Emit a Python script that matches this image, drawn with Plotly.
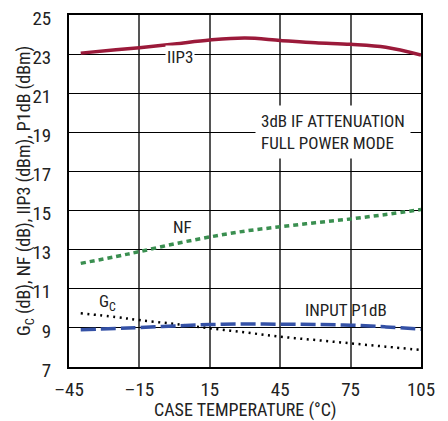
import plotly.graph_objects as go

FONT = "Liberation Sans Narrow, Arial Narrow, Roboto Condensed, Liberation Sans, sans-serif"

# datos
temp = [-40, -25, -15, 0, 15, 30, 45, 60, 75, 90, 105]
iip3 = [23.05, 23.22, 23.33, 23.52, 23.72, 23.82, 23.70, 23.58, 23.50, 23.35, 22.95]
nf = [12.3, 12.65, 12.9, 13.3, 13.65, 13.95, 14.17, 14.38, 14.57, 14.8, 15.05]
gc = [9.75, 9.55, 9.4, 9.2, 8.98, 8.77, 8.55, 8.38, 8.21, 8.04, 7.87]
p1db = [8.9, 8.97, 9.02, 9.1, 9.17, 9.2, 9.19, 9.17, 9.14, 9.05, 8.93]

x_ticks = [-45, -15, 15, 45, 75, 105]
x_ticktext = ["–45", "–15", "15", "45", "75", "105"]
y_ticks = [7, 9, 11, 13, 15, 17, 19, 21, 23, 25]

fig = go.Figure()
fig.add_trace(go.Scatter(x=temp, y=iip3, mode="lines", line_shape="spline",
                         line=dict(color="#9b1a3a", width=3.5)))
fig.add_trace(go.Scatter(x=temp, y=nf, mode="lines", line_shape="spline",
                         line=dict(color="#3a8f50", width=3.5, dash="5px,4px")))
fig.add_trace(go.Scatter(x=temp, y=gc, mode="lines", line_shape="spline",
                         line=dict(color="black", width=2.5, dash="2px,4.5px")))
fig.add_trace(go.Scatter(x=temp, y=p1db, mode="lines", line_shape="spline",
                         line=dict(color="#3451a6", width=3.5, dash="15px,5px")))

ann = dict(font=dict(family=FONT, size=17, color="#222"), showarrow=False,
           bgcolor="white")
fig.add_annotation(x=2.5, y=22.85, text="IIP3", **ann)
fig.add_annotation(x=3.5, y=14.15, text="NF", **ann)
fig.add_annotation(x=-28.5, y=10.3, text="G<sub>C</sub>", bgcolor="rgba(0,0,0,0)",
                   font=dict(family=FONT, size=17, color="#222"), showarrow=False)
fig.add_annotation(x=73, y=9.9, text="INPUT P1dB", bgcolor="rgba(0,0,0,0)",
                   font=dict(family=FONT, size=17, color="#222"), showarrow=False)
fig.add_annotation(x=67.5, y=19, text="3dB IF ATTENUATION<br>FULL POWER MODE",
                   align="left", borderpad=5, **ann)
# titulos de ejes como anotaciones para fijar su posicion
fig.add_annotation(xref="paper", yref="paper", x=-0.125, y=0.5, textangle=-90,
                   xanchor="center", yanchor="middle",
                   text="G<sub>C</sub> (dB), NF (dB), IIP3 (dBm), P1dB (dBm)",
                   font=dict(family=FONT, size=18, color="#222"), showarrow=False)
fig.add_annotation(xref="paper", yref="paper", x=0.5, y=-0.122,
                   xanchor="center", yanchor="middle",
                   text="CASE TEMPERATURE (°C)",
                   font=dict(family=FONT, size=18, color="#222"), showarrow=False)

# la pagina deja 8px de margen en el body, por eso la figura es algo menor
fig.update_layout(
    width=440, height=413,
    margin=dict(l=61, r=27, t=7, b=54),
    plot_bgcolor="white", paper_bgcolor="white",
    showlegend=False,
    font=dict(family=FONT, size=19, color="#222"),
)
fig.update_xaxes(range=[-45, 105], tickvals=x_ticks, ticktext=x_ticktext,
                 showgrid=True, gridcolor="#555", gridwidth=1.5,
                 showline=True, linecolor="black", linewidth=2, mirror=True,
                 ticks="", zeroline=False, automargin=False, ticklabelstandoff=4,
                 ticklabeloverflow="allow")
fig.update_yaxes(range=[7, 25], tickvals=y_ticks,
                 showgrid=True, gridcolor="black", gridwidth=1.2,
                 showline=True, linecolor="black", linewidth=2, mirror=True,
                 ticks="", zeroline=False, automargin=False, ticklabelstandoff=12,
                 ticklabelshift=3, ticklabeloverflow="allow")

fig.write_html("out.html")
